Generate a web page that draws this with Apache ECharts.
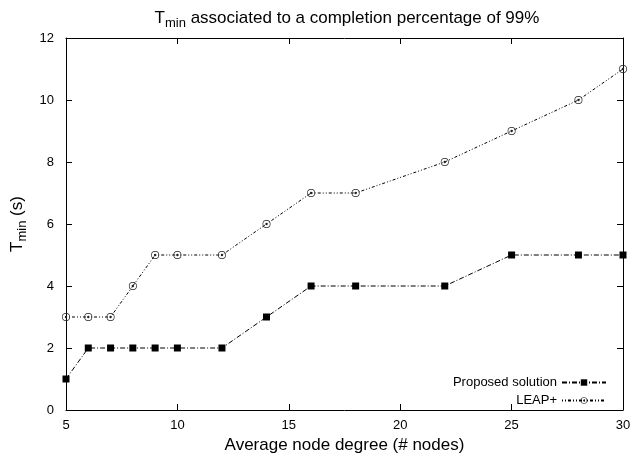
<!DOCTYPE html>
<html><head><meta charset="utf-8">
<script src="https://cdn.jsdelivr.net/npm/echarts@6/dist/echarts.min.js"></script>
<style>html,body{margin:0;padding:0;background:#fff}#c{width:634px;height:454px}</style>
</head><body><div id="c"></div>
<script>
const xValues = [5, 6, 7, 8, 9, 10, 12, 14, 16, 18, 22, 25, 28, 30];
const proposed = [1, 2, 2, 2, 2, 2, 2, 3, 4, 4, 4, 5, 5, 5];
const leap = [3, 3, 3, 4, 5, 5, 5, 6, 7, 7, 8, 9, 10, 11];

const pair = (xs, ys) => xs.map((x, i) => [x, ys[i]]);
const font = 'Liberation Sans, Arial, sans-serif';
const ringDot = 'path://M0,-10A10,10 0 1,1 0,10A10,10 0 1,1 0,-10Z' +
  'M0,-8.3A8.3,8.3 0 1,0 0,8.3A8.3,8.3 0 1,0 0,-8.3Z' +
  'M0,-3A3,3 0 1,1 0,3A3,3 0 1,1 0,-3Z';
const chart = echarts.init(document.getElementById('c'));
const tick = {show: true, inside: true, length: 6, lineStyle: {color: '#000', width: 1}};
const line = {show: true, onZero: false, lineStyle: {color: '#000', width: 1}};
const lab = {color: '#000', fontFamily: font, fontSize: 13};
chart.setOption({
  animation: false,
  title: {
    text: '{t|T}{s|min}{t| associated to a completion percentage of 99%}',
    left: 342, top: 2, textAlign: 'center',
    textStyle: {fontWeight: 'normal', rich: {
      t: {fontFamily: font, fontSize: 17, color: '#000', fontWeight: 'normal'},
      s: {fontFamily: font, fontSize: 13, color: '#000', fontWeight: 'normal', padding: [10, 0, 0, 0]}
    }}
  },
  grid: {left: 66, right: 11, top: 38, bottom: 44, outerBoundsMode: 'none', containLabel: false},
  legend: {
    data: ['Proposed solution', 'LEAP+'],
    orient: 'vertical', right: 22, bottom: 42, align: 'right',
    itemWidth: 44, itemHeight: 8, itemGap: 5,
    textStyle: {fontFamily: font, fontSize: 13, color: '#000'}
  },
  xAxis: [{
    type: 'value', min: 5, max: 30, interval: 5,
    axisLine: line, axisTick: tick, splitLine: {show: false},
    name: 'Average node degree (# nodes)', nameLocation: 'middle', nameGap: 25,
    nameTextStyle: {fontFamily: font, fontSize: 17, color: '#000'},
    axisLabel: {...lab, margin: 9}
  }, {
    type: 'value', min: 5, max: 30, interval: 5, position: 'top',
    axisLine: line, axisTick: tick, splitLine: {show: false},
    axisLabel: {show: false}
  }],
  yAxis: [{
    type: 'value', min: 0, max: 12, interval: 2,
    axisLine: line, axisTick: tick, splitLine: {show: false},
    name: '{t|T}{s|min}{t| (s)}', nameLocation: 'middle', nameGap: 37,
    nameTextStyle: {rich: {
      t: {fontFamily: font, fontSize: 17, color: '#000'},
      s: {fontFamily: font, fontSize: 13, color: '#000', padding: [10, 0, 0, 0]}
    }},
    axisLabel: {...lab, margin: 12}
  }, {
    type: 'value', min: 0, max: 12, interval: 2, position: 'right',
    axisLine: line, axisTick: tick, splitLine: {show: false},
    axisLabel: {show: false}
  }],
  series: [{
    name: 'Proposed solution', type: 'line', data: pair(xValues, proposed),
    symbol: 'rect', symbolSize: 7, showAllSymbol: true,
    lineStyle: {color: '#000', width: 1, type: [5, 2, 1, 2]},
    itemStyle: {color: '#000'}, z: 3
  }, {
    name: 'LEAP+', type: 'line', data: pair(xValues, leap),
    symbol: ringDot, symbolSize: 8, showAllSymbol: true,
    lineStyle: {color: '#000', width: 1, type: [1, 2, 1, 2, 3, 2]},
    itemStyle: {color: '#222'}, z: 3
  }]
});
</script></body></html>
